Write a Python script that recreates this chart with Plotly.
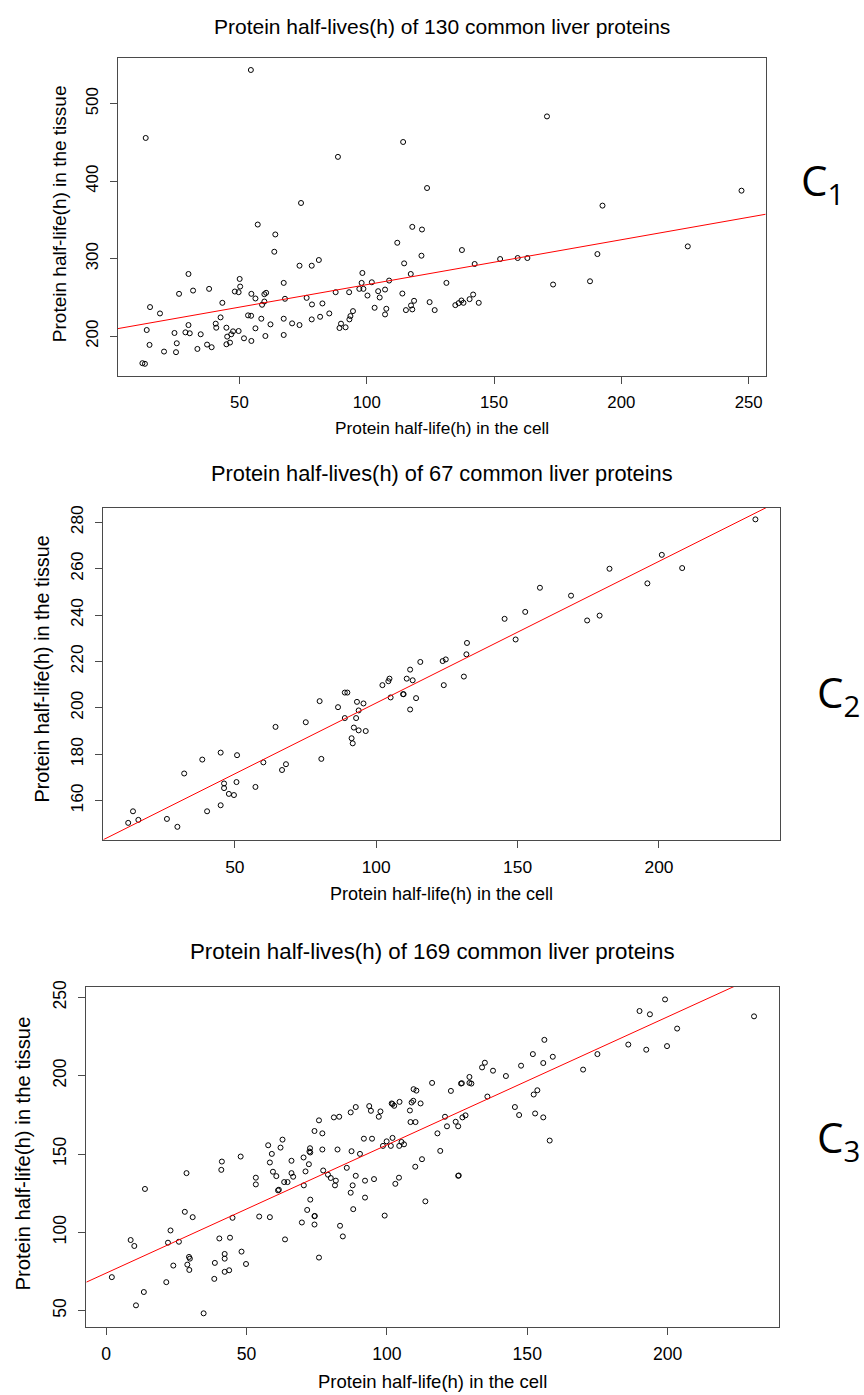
import plotly.graph_objects as go

# ---------------- data ----------------
cell1 = [54.5, 13.2, 88.7, 114.3, 123.7, 74.2, 57.2, 64.1, 63.7, 117.9, 121.7, 112.0, 121.5, 114.7, 81.2,
         73.6, 78.4, 30.0, 98.3, 117.3, 50.1, 50.3, 67.4, 98.0, 102.0, 108.8, 38.1, 31.8, 48.2, 49.7,
         26.3, 54.7, 59.8, 60.5, 87.8, 93.1, 97.1, 98.7, 104.5, 107.2, 100.3, 105.1, 114.0, 56.3, 67.9,
         76.4, 43.3, 59.8, 58.9, 78.5, 82.6, 14.9, 118.6, 117.4, 103.1, 107.7, 115.4, 117.9, 107.2, 94.6,
         93.6, 18.8, 42.6, 53.4, 54.6, 85.3, 81.7, 67.4, 78.4, 93.2, 58.6, 30.0, 40.7, 62.2, 70.7,
         73.6, 13.6, 40.9, 44.9, 56.3, 89.3, 89.9, 91.7, 28.8, 24.5, 30.5, 34.8, 47.5, 49.7, 46.8,
         45.2, 51.8, 60.2, 67.4, 54.7, 14.7, 25.4, 20.4, 25.1, 33.5, 37.3, 39.1, 44.9, 46.3, 11.9,
         12.9, 124.7, 126.7, 131.3, 137.4, 134.8, 136.1, 137.2, 138.0, 140.4, 141.8, 142.4, 144.0, 152.4, 159.3,
         163.1, 170.8, 173.2, 187.7, 190.6, 192.6, 226.1, 247.2]
tissue1 = [543.6, 455.9, 431.5, 450.7, 391.3, 372.0, 344.2, 331.4, 309.1, 341.2, 337.8, 320.7, 304.0, 294.1, 298.4,
           291.1, 291.1, 280.4, 281.7, 280.4, 274.0, 264.2, 268.9, 268.9, 269.7, 271.9, 261.2, 259.0, 257.8, 256.9,
           254.8, 254.8, 254.3, 256.1, 256.9, 256.9, 261.2, 261.2, 258.2, 260.3, 252.6, 250.1, 255.2, 248.8, 248.4,
           249.6, 243.2, 244.9, 240.7, 241.1, 242.4, 237.7, 245.8, 239.8, 236.8, 235.5, 233.8, 234.7, 228.2, 232.5,
           226.1, 229.5, 224.4, 227.0, 226.5, 229.5, 225.2, 222.7, 221.8, 221.8, 222.7, 214.5, 216.3, 215.4, 216.7,
           214.5, 208.1, 211.1, 211.1, 210.3, 210.7, 216.3, 211.6, 205.1, 204.3, 203.9, 202.6, 206.4, 206.8, 202.6,
           199.6, 197.4, 200.4, 201.7, 194.0, 188.9, 191.0, 180.3, 179.5, 183.7, 189.3, 185.9, 189.7, 191.9, 165.3,
           164.5, 244.1, 233.8, 268.9, 311.3, 240.2, 242.8, 246.2, 243.2, 247.9, 253.9, 293.3, 243.2, 299.7, 301.0,
           301.0, 483.7, 266.8, 271.0, 306.1, 368.6, 316.0, 387.9]

cell2 = [12.3, 14.0, 15.9, 26.0, 29.7, 32.1, 38.5, 40.2, 45.0, 45.0, 46.2, 46.2, 47.9, 49.7, 50.6,
         50.8, 57.3, 60.1, 64.4, 66.7, 68.1, 75.1, 80.0, 80.6, 86.5, 88.9, 88.9, 89.8, 91.3, 91.7,
         92.1, 92.9, 93.2, 93.8, 93.8, 95.5, 96.3, 102.2, 104.3, 104.7, 105.1, 109.5, 109.7, 110.8, 112.0,
         112.0, 112.9, 114.1, 115.6, 123.5, 124.6, 123.9, 131.0, 131.9, 132.1, 145.4, 149.3, 152.7, 157.9, 168.9,
         174.6, 179.0, 182.5, 195.9, 201.0, 208.2, 234.1]
tissue2 = [150.4, 155.4, 151.7, 152.1, 148.7, 171.7, 177.7, 155.4, 180.7, 158.0, 167.4, 165.4, 162.9, 162.4, 168.0,
           179.6, 165.9, 176.5, 191.8, 173.2, 175.7, 193.8, 202.9, 178.0, 200.3, 195.6, 206.6, 206.6, 186.9, 184.7,
           191.5, 195.6, 202.6, 198.9, 190.3, 201.9, 190.0, 209.8, 211.5, 212.6, 204.5, 205.9, 205.9, 212.6, 216.5,
           199.3, 211.9, 204.2, 219.8, 220.2, 220.9, 209.8, 213.5, 223.1, 228.0, 238.4, 229.5, 241.4, 251.8, 248.4,
           237.7, 239.8, 260.0, 253.7, 266.0, 260.3, 281.3]

cell3 = [2.0, 8.7, 10.0, 10.6, 13.4, 13.8, 21.4, 22.0, 22.9, 23.9, 25.9, 28.0, 28.6, 28.9, 29.5,
         29.8, 29.6, 30.8, 34.7, 38.5, 38.7, 40.3, 41.0, 41.2, 42.2, 42.2, 42.2, 43.8, 44.1, 45.0,
         47.9, 48.2, 49.8, 53.3, 53.3, 54.5, 57.7, 58.3, 58.3, 59.0, 59.4, 60.6, 61.2, 61.5, 62.1,
         62.8, 63.4, 63.7, 64.6, 66.0, 66.0, 66.6, 69.7, 70.3, 70.4, 71.0, 71.6, 72.2, 72.6, 72.4,
         72.7, 72.7, 74.2, 74.2, 74.3, 74.2, 75.8, 75.8, 77.0, 77.0, 77.3, 79.0, 80.0, 81.1, 81.5,
         81.8, 82.4, 83.0, 83.3, 84.3, 85.7, 87.1, 87.1, 87.4, 87.8, 88.0, 88.9, 88.9, 90.4, 91.8,
         92.2, 92.2, 93.7, 94.3, 94.7, 95.4, 97.1, 97.7, 98.6, 99.2, 99.9, 101.4, 102.0, 101.7, 102.0,
         102.6, 103.0, 104.3, 104.4, 104.5, 105.2, 106.1, 108.2, 108.4, 108.8, 109.4, 109.5, 110.5, 110.2, 110.1,
         112.0, 112.5, 113.7, 116.1, 118.0, 119.0, 120.7, 121.4, 122.8, 124.5, 125.4, 125.4, 125.6, 126.4, 126.7,
         126.9, 128.0, 129.4, 129.4, 130.1, 133.9, 134.9, 135.8, 137.8, 142.4, 145.6, 147.1, 147.8, 152.0, 152.3,
         152.8, 153.6, 155.7, 155.7, 156.1, 158.0, 159.1, 169.9, 175.0, 186.0, 190.0, 192.4, 193.7, 199.1, 199.8,
         203.4, 230.8]
tissue3 = [71.4, 95.1, 91.3, 53.4, 61.9, 127.7, 68.2, 93.4, 101.2, 78.8, 94.0, 113.1, 137.8, 79.4, 84.3,
           83.2, 76.0, 109.7, 48.3, 70.3, 80.5, 96.1, 139.9, 145.2, 86.2, 83.2, 74.8, 75.8, 96.6, 109.3,
           148.4, 87.7, 79.8, 134.9, 130.6, 110.1, 155.6, 144.6, 109.7, 150.1, 138.7, 135.9, 126.8, 127.2, 154.1,
           159.2, 132.1, 95.5, 132.1, 145.7, 137.8, 135.5, 106.3, 147.8, 130.0, 138.9, 114.3, 143.5, 153.7, 151.6,
           151.0, 120.9, 110.3, 105.0, 110.5, 164.7, 171.5, 83.9, 163.2, 152.9, 139.5, 136.8, 134.7, 173.4, 130.0,
           133.0, 152.9, 173.8, 104.2, 97.4, 141.2, 176.6, 125.3, 151.8, 130.0, 114.8, 180.0, 136.1, 150.1, 159.8,
           133.0, 122.2, 180.6, 177.6, 159.8, 134.0, 173.8, 177.2, 155.2, 110.7, 158.1, 155.2, 160.3, 182.3, 181.9,
           180.8, 131.0, 134.9, 155.2, 183.3, 157.7, 156.2, 177.8, 170.4, 182.9, 184.0, 191.4, 190.5, 170.4, 141.9,
           182.3, 146.7, 119.8, 195.4, 163.2, 152.0, 173.8, 167.7, 190.3, 170.6, 167.7, 136.1, 136.3, 195.0, 195.2,
           173.4, 174.7, 199.2, 195.4, 195.0, 205.3, 208.3, 186.7, 203.2, 199.8, 180.0, 174.9, 206.4, 213.8, 188.0,
           175.9, 190.7, 208.1, 173.4, 222.9, 158.6, 212.1, 203.9, 213.8, 219.9, 241.3, 216.6, 239.2, 248.7, 218.9,
           230.1, 237.9]

# regression lines (intercept, slope)
fit1 = [208.6, 0.580]
fit2 = [141.0, 0.611]
fit3 = [74.0, 0.818]

titles = ["Protein half-lives(h) of 130 common liver proteins",
          "Protein half-lives(h) of 67 common liver proteins",
          "Protein half-lives(h) of 169 common liver proteins"]
xlab = "Protein half-life(h) in the cell"
ylab = "Protein half-life(h) in the tissue"
panel_tags = ["C<sub>1</sub>", "C<sub>2</sub>", "C<sub>3</sub>"]

xticks1 = [50, 100, 150, 200, 250]
yticks1 = [200, 300, 400, 500]
xticks2 = [50, 100, 150, 200]
yticks2 = [160, 180, 200, 220, 240, 260, 280]
xticks3 = [0, 50, 100, 150, 200]
yticks3 = [50, 100, 150, 200, 250]

# ---------------- layout geometry (pixels) ----------------
W, H = 864, 1395
FONT = "Liberation Sans, Arial, sans-serif"
BOX = "#4a4a4a"

panels = [
    dict(x=cell1, y=tissue1, fit=fit1, xr=[2.2, 256.7], yr=[148.6, 558.5], xt=xticks1, yt=yticks1,
         box=(117.7, 765.7, 51.7, 371.0), tick=16.8, tfs=21.0, xfs=17.3, yfs=19.0,
         ty=19.5, xty=422.7, yty=(59.5, 207.7), tag=(822, 176)),
    dict(x=cell2, y=tissue2, fit=fit2, xr=[3.5, 242.9], yr=[143.1, 286.3], xt=xticks2, yt=yticks2,
         box=(103.3, 780.3, 503.3, 837.0), tick=17.4, tfs=21.8, xfs=18.0, yfs=19.8,
         ty=469.0, xty=891.3, yty=(42.0, 665.8), tag=(838, 691)),
    dict(x=cell3, y=tissue3, fit=fit3, xr=[-7.1, 239.8], yr=[39.8, 256.6], xt=xticks3, yt=yticks3,
         box=(86.3, 779.3, 985.0, 1326.3), tick=17.6, tfs=22.3, xfs=18.5, yfs=20.3,
         ty=949.5, xty=1381.7, yty=(23.0, 1152.3), tag=(838, 1138)),
]

fig = go.Figure()
annotations = []
layout_axes = {}

for i, p in enumerate(panels, start=1):
    xa = "x" if i == 1 else f"x{i}"
    ya = "y" if i == 1 else f"y{i}"
    fig.add_trace(go.Scatter(
        x=p["x"], y=p["y"], mode="markers", xaxis=xa, yaxis=ya,
        marker=dict(symbol="circle-open", size=5, color="black", line=dict(width=1, color="black")),
        showlegend=False, hoverinfo="x+y"))
    a, b = p["fit"]
    xs = [p["xr"][0], p["xr"][1]]
    fig.add_trace(go.Scatter(
        x=xs, y=[a + b * v for v in xs], mode="lines", xaxis=xa, yaxis=ya,
        line=dict(color="#ff0000", width=1), showlegend=False, hoverinfo="skip"))

    l, r, t, btm = p["box"]
    common = dict(showline=True, mirror=True, linecolor=BOX, linewidth=1, ticks="outside", ticklen=7,
                  tickcolor=BOX, tickwidth=1, showgrid=False, zeroline=False,
                  tickfont=dict(family=FONT, size=p["tick"], color="black"))
    xkey = "xaxis" if i == 1 else f"xaxis{i}"
    ykey = "yaxis" if i == 1 else f"yaxis{i}"
    layout_axes[xkey] = dict(common, domain=[l / W, r / W], anchor=ya, range=p["xr"],
                             tickmode="array", tickvals=p["xt"], ticklabelstandoff=4)
    layout_axes[ykey] = dict(common, domain=[1 - btm / H, 1 - t / H], anchor=xa, range=p["yr"],
                             tickmode="array", tickvals=p["yt"], tickangle=-90, ticklabelstandoff=5)

    cx = (l + r) / 2
    annotations.append(dict(text=titles[i - 1], x=cx / W, y=1 - p["ty"] / H, xref="paper", yref="paper",
                            xanchor="center", yanchor="middle", showarrow=False,
                            font=dict(family=FONT, size=p["tfs"], color="black")))
    annotations.append(dict(text=xlab, x=cx / W, y=1 - p["xty"] / H, xref="paper", yref="paper",
                            xanchor="center", yanchor="middle", showarrow=False,
                            font=dict(family=FONT, size=p["xfs"], color="black")))
    annotations.append(dict(text=ylab, x=p["yty"][0] / W, y=1 - p["yty"][1] / H, xref="paper", yref="paper",
                            xanchor="center", yanchor="middle", showarrow=False, textangle=-90,
                            font=dict(family=FONT, size=p["yfs"], color="black")))
    annotations.append(dict(text=panel_tags[i - 1], x=p["tag"][0] / W, y=1 - p["tag"][1] / H,
                            xref="paper", yref="paper", xanchor="center", yanchor="middle", showarrow=False,
                            font=dict(family="Open Sans, Noto Sans, sans-serif", size=42, color="black")))

fig.update_layout(
    width=W, height=H, margin=dict(l=0, r=0, t=0, b=0),
    paper_bgcolor="white", plot_bgcolor="white", showlegend=False,
    annotations=annotations, **layout_axes)

fig.write_html("out.html", config={"displayModeBar": False},
               post_script="document.body.style.margin='0';document.body.style.overflow='hidden';")
